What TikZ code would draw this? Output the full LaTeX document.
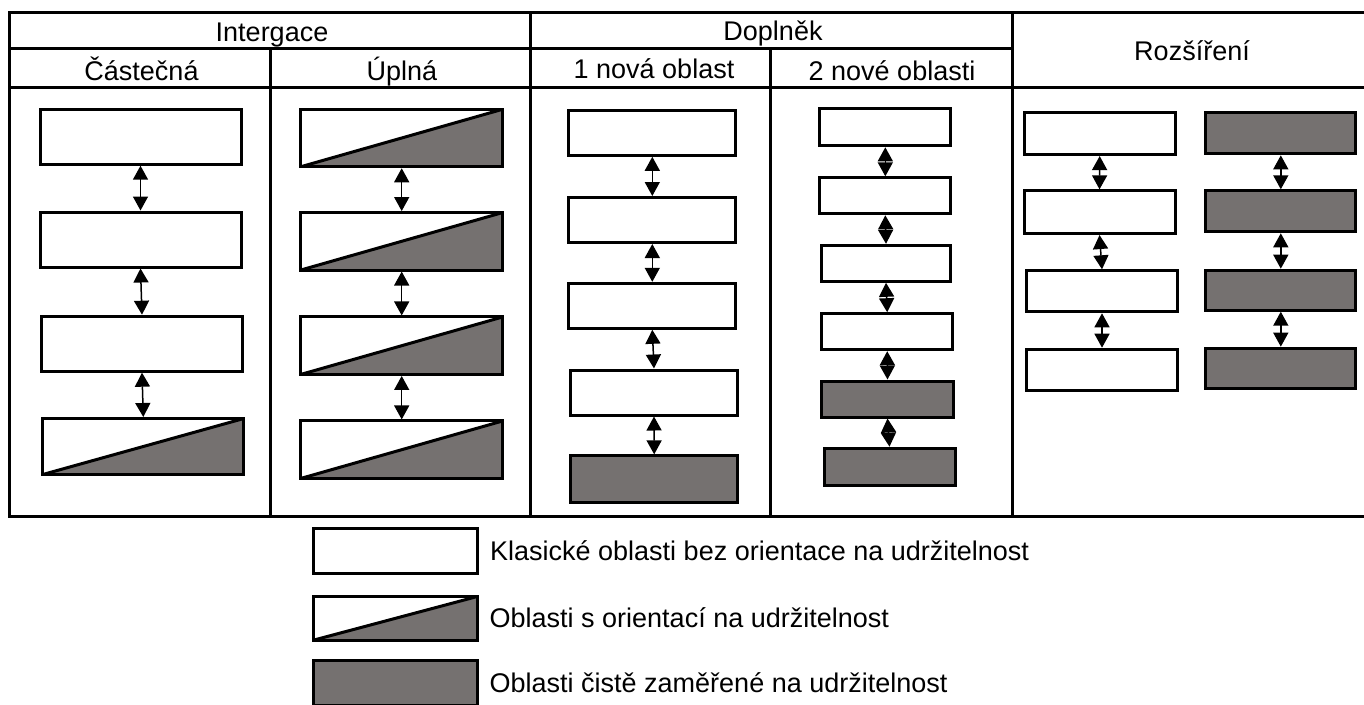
\documentclass[tikz,border=0pt]{standalone}
\usepackage{fontspec}
\setmainfont{Liberation Sans}
\usetikzlibrary{arrows.meta}
\definecolor{boxgray}{RGB}{117,113,112}
\begin{document}
\begin{tikzpicture}[x=1pt,y=-1pt,
  tabline/.style={line width=3pt, line cap=rect},
  box/.style={draw=black, line width=3pt, inner sep=0pt, minimum width=#1},
  clbox/.style={box=#1, fill=white},
  grbox/.style={box=#1, fill=boxgray},
  hfbox/.style={box=#1, fill=white, path picture={
      \fill[boxgray] (path picture bounding box.south west) -- (path picture bounding box.south east)
        -- (path picture bounding box.north east) -- cycle;
      \draw[line width=3pt] (path picture bounding box.south west) -- (path picture bounding box.north east);
      \draw[line width=3pt] (path picture bounding box.south west) rectangle (path picture bounding box.north east);
    }},
  conn/.style={{Triangle[width=15pt,length=14pt]}-{Triangle[width=15pt,length=14pt]}, line width=1.5pt},
  hdr/.style={anchor=base, inner sep=0pt, font=\fontsize{27}{32}\selectfont},
  leg/.style={anchor=base west, inner sep=0pt, font=\fontsize{27}{32}\selectfont}
]
\useasboundingbox (0,0) rectangle (1364,704);
\clip (0,0) rectangle (1364,704);
\fill[white] (0,0) rectangle (1364,704);

% table grid
\draw[tabline] (9.5,12.3) -- (1366,12.3);
\draw[tabline] (9.5,48.5) -- (1012,48.5);
\draw[tabline] (9.5,87.5) -- (1366,87.5);
\draw[tabline] (9.5,516.7) -- (1366,516.7);
\draw[tabline] (9.5,12.3) -- (9.5,516.7);
\draw[tabline] (270,48.5) -- (270,516.7);
\draw[tabline] (530,12.3) -- (530,516.7);
\draw[tabline] (770.7,48.5) -- (770.7,516.7);
\draw[tabline] (1012,12.3) -- (1012,516.7);

% headers
\node[hdr] (tInt) at (272,41) {Intergace};
\node[hdr] (tDop) at (773,40) {Doplněk};
\node[hdr] (tRoz) at (1192,60) {Rozšíření};
\node[hdr] (tCas) at (141.5,80) {Částečná};
\node[hdr] (tUpl) at (402,80) {Úplná};
\node[hdr] (tNov1) at (654,78) {1 nová oblast};
\node[hdr] (tNov2) at (892,80) {2 nové oblasti};

% Castecna
\node[clbox=201pt, minimum height=55pt] (A1) at (140.5,136.7) {};
\node[clbox=201pt, minimum height=55pt] (A2) at (140.5,239.5) {};
\node[clbox=201pt, minimum height=55pt] (A3) at (142,343.7) {};
\node[hfbox=201pt, minimum height=56pt] (A4) at (143.3,446.5) {};
\draw[conn] (A1.south) -- (A2.north);
\draw[conn] (A2.south) -- (A3.north);
\draw[conn] (A3.south) -- (A4.north);

% Uplna
\node[hfbox=202pt, minimum height=57.5pt] (B1) at (401.7,138) {};
\node[hfbox=202pt, minimum height=57.5pt] (B2) at (401.7,241.3) {};
\node[hfbox=202pt, minimum height=57.5pt] (B3) at (401.7,345.7) {};
\node[hfbox=202pt, minimum height=57.5pt] (B4) at (401.7,449.7) {};
\draw[conn] (B1.south) -- (B2.north);
\draw[conn] (B2.south) -- (B3.north);
\draw[conn] (B3.south) -- (B4.north);

% 1 nova oblast
\node[clbox=167pt, minimum height=45pt] (C1) at (652.3,132.8) {};
\node[clbox=167pt, minimum height=45pt] (C2) at (652.3,220) {};
\node[clbox=167pt, minimum height=45pt] (C3) at (652.3,305.8) {};
\node[clbox=167pt, minimum height=45pt] (C4) at (654,392.5) {};
\node[grbox=167pt, minimum height=46.7pt] (C5) at (654.2,479.2) {};
\draw[conn] (C1.south) -- (C2.north);
\draw[conn] (C2.south) -- (C3.north);
\draw[conn] (C3.south) -- (C4.north);
\draw[conn] (C4.south) -- (C5.north);

% 2 nove oblasti
\node[clbox=131pt, minimum height=37pt] (D1) at (885.3,127.3) {};
\node[clbox=131pt, minimum height=36pt] (D2) at (885.3,195.8) {};
\node[clbox=129pt, minimum height=36pt] (D3) at (886,263.3) {};
\node[clbox=131pt, minimum height=36pt] (D4) at (887.2,331.7) {};
\node[grbox=132pt, minimum height=36pt] (D5) at (887.5,399) {};
\node[grbox=131pt, minimum height=37.6pt] (D6) at (889.5,467) {};
\draw[conn] (D1.south) -- (D2.north);
\draw[conn] (D2.south) -- (D3.north);
\draw[conn] (D3.south) -- (D4.north);
\draw[conn] (D4.south) -- (D5.north);
\draw[conn] (D5.south) -- (D6.north);

% Rozsireni
\node[clbox=151pt, minimum height=41.7pt] (E1) at (1099.7,133.7) {};
\node[clbox=151pt, minimum height=42.7pt] (E2) at (1099.5,212.2) {};
\node[clbox=151pt, minimum height=41pt] (E3) at (1102,291.3) {};
\node[clbox=151pt, minimum height=41pt] (E4) at (1102,369.7) {};
\draw[conn] (E1.south) -- (E2.north);
\draw[conn] (E2.south) -- (E3.north);
\draw[conn] (E3.south) -- (E4.north);
\node[grbox=150pt, minimum height=41.3pt] (F1) at (1280.8,133.2) {};
\node[grbox=150pt, minimum height=41pt] (F2) at (1280.8,211.3) {};
\node[grbox=150pt, minimum height=40pt] (F3) at (1280.8,290.2) {};
\node[grbox=150pt, minimum height=40.3pt] (F4) at (1280.8,368.3) {};
\draw[conn] (F1.south) -- (F2.north);
\draw[conn] (F2.south) -- (F3.north);
\draw[conn] (F3.south) -- (F4.north);

% legend
\node[clbox=163.7pt, minimum height=44.7pt] (L1) at (395.7,551.2) {};
\node[hfbox=164pt, minimum height=43.7pt] (L2) at (395.5,618.3) {};
\node[grbox=164pt, minimum height=45pt] (L3) at (395.5,683) {};
\node[leg] (T1) at (490,560) {Klasické oblasti bez orientace na udržitelnost};
\node[leg] (T2) at (489.5,627) {Oblasti s orientací na udržitelnost};
\node[leg] (T3) at (489.5,692) {Oblasti čistě zaměřené na udržitelnost};
\end{tikzpicture}
\end{document}
